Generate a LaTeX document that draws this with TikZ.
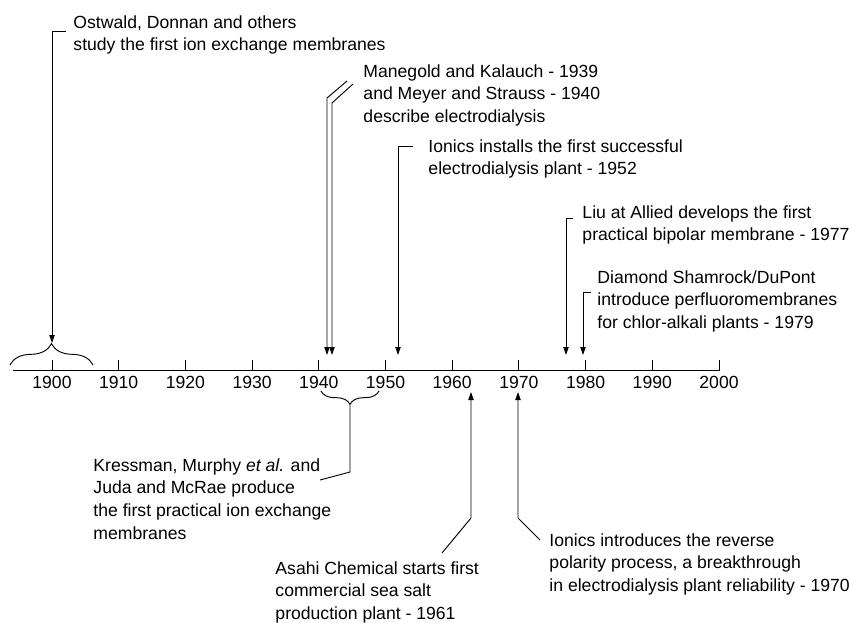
\documentclass[tikz,border=0pt]{standalone}
\usepackage{fontspec}
\setmainfont{Liberation Sans}
\usetikzlibrary{arrows.meta,calc,decorations.pathreplacing}

\begin{document}
\begin{tikzpicture}[x=0.75pt,y=-0.75pt,line width=0.7pt,
  evtext/.style={align=left,anchor=north west,inner sep=0pt,font=\fontsize{13.2}{17}\selectfont},
  yearlbl/.style={inner sep=0pt,font=\fontsize{13.2}{17}\selectfont},
  evarrow/.style={-{Triangle[length=6pt,width=4pt]}},
  bracket/.style={decorate,decoration={brace,amplitude=#1}}]
\useasboundingbox (0,0) rectangle (852,623);

% time axis
\draw (13,370) -- (720,370);
\foreach \yr [count=\i from 0] in {1900,1910,...,2000} {
  \draw ({52+66.7*\i},370) -- ++(0,-10);
  \node[yearlbl] (y\yr) at ({52+66.7*\i},382) {\yr};
}

\coordinate (d1900) at (52,343);
\coordinate (d1941) at (327,355);
\coordinate (d1942) at (332,355);
\coordinate (d1952) at (398,355);
\coordinate (d1977) at (566,355);
\coordinate (d1979) at (583,355);
\coordinate (u1963) at (471,392);
\coordinate (u1970) at (518,392);
\coordinate (b1940) at (350,405);

\draw[bracket=16pt] (10,365) -- (93,365);
\draw[bracket=10pt] (379,391) -- (321,391);

% events above the axis
\node[evtext] (ostwald) at (73,15) {Ostwald, Donnan and others\\study the first ion exchange membranes};
\node[evtext] (manegold) at (363,64) {Manegold and Kalauch - 1939\\and Meyer and Strauss - 1940\\describe electrodialysis};
\node[evtext] (ionicsA) at (428,139) {Ionics installs the first successful\\electrodialysis plant - 1952};
\node[evtext] (liu) at (582,205) {Liu at Allied develops the first\\practical bipolar membrane - 1977};
\node[evtext] (diamond) at (597,270) {Diamond Shamrock/DuPont\\introduce perfluoromembranes\\for chlor-alkali plants - 1979};

\draw[evarrow] ($(ostwald.north west)+(-7,16)$) -| (d1900);
\draw[evarrow] ($(manegold.north west)+(-16,17)$) -- ++(-20,17) -- (d1941);
\draw[evarrow] ($(manegold.north west)+(-10,20)$) -- ++(-21,19) -- (d1942);
\draw[evarrow] ($(ionicsA.north west)+(-15,7)$) -| (d1952);
\draw[evarrow] ($(liu.north west)+(-9,13)$) -| (d1977);
\draw[evarrow] ($(diamond.north west)+(-6,22)$) -| (d1979);

% events below the axis
\node[evtext] (kressman) at (93,458) {Kressman, Murphy \textit{et al.} and\\Juda and McRae produce\\the first practical ion exchange\\membranes};
\node[evtext] (asahi) at (275,561) {Asahi Chemical starts first\\commercial sea salt\\production plant - 1961};
\node[evtext] (ionicsB) at (549,533) {Ionics introduces the reverse\\polarity process, a breakthrough\\in electrodialysis plant reliability - 1970};

\draw ($(kressman.north west)+(227,22)$) -- ++(30,-8) -- (b1940);
\draw[evarrow] ($(asahi.north west)+(167,-8)$) -- ++(29,-35) -- (u1963);
\draw[evarrow] ($(ionicsB.north west)+(-9,7)$) -- ++(-22,-22) -- (u1970);
\end{tikzpicture}
\end{document}
